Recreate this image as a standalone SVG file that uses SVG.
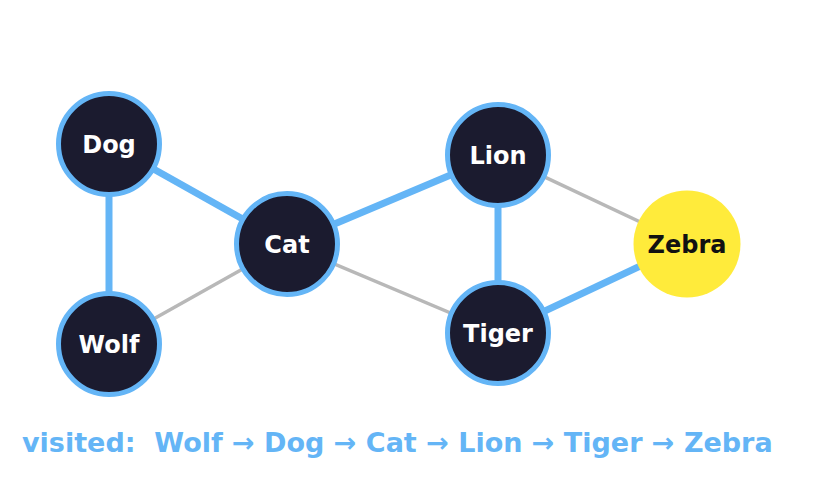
<svg xmlns="http://www.w3.org/2000/svg" width="832" height="489" viewBox="0 0 832 489">
<style>
.edge{fill:none;stroke-linecap:butt}
.gray{stroke:#b8b8b8;stroke-width:3.5}
.blue{stroke:#64b5f6;stroke-width:7}
.node{fill:#1b1b2f;stroke:#64b5f6;stroke-width:5}
.lbl{font-family:"DejaVu Sans",sans-serif;font-weight:bold;font-size:24px;text-anchor:middle;fill:#ffffff}
.foot{font-family:"DejaVu Sans",sans-serif;font-weight:bold;font-size:27px;fill:#64b5f6}
</style>
<rect width="832" height="489" fill="#ffffff"/>
<g id="connectors">
<line class="edge gray" x1="109" y1="344" x2="287" y2="244"/>
<line class="edge gray" x1="287" y1="244" x2="498" y2="333"/>
<line class="edge gray" x1="498" y1="155" x2="687" y2="244"/>
<line class="edge blue" x1="109" y1="144" x2="109" y2="344"/>
<line class="edge blue" x1="109" y1="144" x2="287" y2="244"/>
<line class="edge blue" x1="287" y1="244" x2="498" y2="155"/>
<line class="edge blue" x1="498" y1="155" x2="498" y2="333"/>
<line class="edge blue" x1="498" y1="333" x2="687" y2="244"/>
</g>
<g id="node-dog"><circle class="node" cx="109" cy="144" r="50.5"/><text class="lbl" x="109" y="153">Dog</text></g>
<g id="node-wolf"><circle class="node" cx="109" cy="344" r="50.5"/><text class="lbl" x="109" y="353">Wolf</text></g>
<g id="node-cat"><circle class="node" cx="287" cy="244" r="50.5"/><text class="lbl" x="287" y="253">Cat</text></g>
<g id="node-lion"><circle class="node" cx="498" cy="155" r="50.5"/><text class="lbl" x="498" y="164">Lion</text></g>
<g id="node-tiger"><circle class="node" cx="498" cy="333" r="50.5"/><text class="lbl" x="498" y="342">Tiger</text></g>
<g id="node-zebra"><circle cx="687" cy="244" r="53.5" fill="#ffeb3b"/><text class="lbl" x="687" y="253" style="fill:#111111">Zebra</text></g>
<text class="foot" x="22" y="452" xml:space="preserve">visited:  Wolf → Dog → Cat → Lion → Tiger → Zebra</text>
</svg>
